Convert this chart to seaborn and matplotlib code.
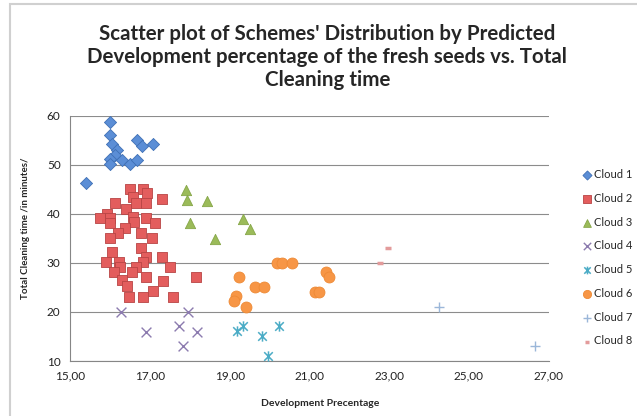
import numpy as np
import matplotlib
matplotlib.use("Agg")
import matplotlib.pyplot as plt
import seaborn as sns
from matplotlib.path import Path
from matplotlib.patches import Rectangle
from matplotlib.ticker import FuncFormatter

# Values
cloud1_x = [16.0, 16.0, 16.04, 16.68, 16.79, 17.07, 16.16, 16.12, 16.0, 16.0, 16.29, 16.5, 16.68, 15.39]
cloud1_y = [58.8, 56.1, 54.2, 55.1, 53.9, 54.2, 53.1, 52.0, 51.2, 50.1, 51.0, 50.1, 51.0, 46.3]

cloud2_x = [16.50, 16.83, 16.93, 16.58, 17.31, 16.12, 16.65, 16.90, 16.40, 15.91, 15.75, 16.00, 16.57,
            16.90, 16.00, 16.61, 17.13, 16.37, 16.20, 16.77, 16.00, 17.04, 16.77, 16.05, 16.90, 17.29,
            15.90, 16.23, 16.82, 16.65, 16.25, 17.50, 16.10, 16.54, 16.90, 17.32, 18.15, 16.29, 16.42,
            17.08, 16.46, 16.83, 17.58]
cloud2_y = [45.1, 45.1, 44.2, 43.4, 43.1, 42.2, 42.2, 42.2, 41.0, 40.1, 39.1, 39.1, 39.4,
            39.1, 38.1, 38.4, 38.2, 37.1, 36.2, 36.2, 35.0, 35.0, 33.1, 32.3, 31.2, 31.2,
            30.3, 30.3, 30.3, 29.2, 29.1, 29.1, 28.2, 28.2, 27.1, 26.4, 27.1, 26.5, 25.4,
            24.3, 23.1, 23.1, 23.1]

cloud3_x = [17.90, 17.92, 18.44, 18.00, 19.33, 19.51, 18.63]
cloud3_y = [44.9, 42.9, 42.7, 38.1, 38.9, 36.9, 34.9]

cloud4_x = [16.26, 17.96, 16.89, 17.73, 18.17, 17.84]
cloud4_y = [20.1, 20.1, 16.0, 17.1, 16.0, 13.1]

cloud5_x = [19.18, 19.34, 19.80, 20.24, 19.97]
cloud5_y = [16.2, 17.1, 15.1, 17.1, 11.1]

cloud6_x = [20.18, 20.30, 20.57, 21.42, 21.49, 19.24, 19.63, 19.87, 21.14, 21.25, 19.16, 19.11, 19.41]
cloud6_y = [30.1, 30.1, 30.1, 28.2, 27.1, 27.1, 25.0, 25.0, 24.1, 24.1, 23.3, 22.2, 21.1]

cloud7_x = [24.25, 26.66]
cloud7_y = [21.0, 13.1]

cloud8_x = [22.98, 22.77]
cloud8_y = [33.0, 30.1]

x_ticks = [15, 17, 19, 21, 23, 25, 27]
y_ticks = [10, 20, 30, 40, 50, 60]

sns.set_style("white")
plt.rcParams['font.family'] = ['Lato', 'DejaVu Sans']

# star marker like Excel's: an X with a vertical bar
star = Path([(-0.5, -0.5), (0.5, 0.5), (-0.5, 0.5), (0.5, -0.5), (0, -0.6), (0, 0.6)],
            [Path.MOVETO, Path.LINETO, Path.MOVETO, Path.LINETO, Path.MOVETO, Path.LINETO])

fig = plt.figure(figsize=(6.37, 4.16), dpi=100)
ax = fig.add_axes([0.1104, 0.1322, 0.7507, 0.589])

sns.scatterplot(x=cloud1_x, y=cloud1_y, marker='D', s=38, color='#5B8ED6', edgecolor='#3F70B5',
                linewidth=0.6, label='Cloud 1', ax=ax, zorder=3)
sns.scatterplot(x=cloud2_x, y=cloud2_y, marker='s', s=62, color='#E35D5D', edgecolor='#B84444',
                linewidth=0.6, label='Cloud 2', ax=ax, zorder=3)
sns.scatterplot(x=cloud3_x, y=cloud3_y, marker='^', s=55, color='#9BBB59', edgecolor='#86A648',
                linewidth=0.6, label='Cloud 3', ax=ax, zorder=3)
sns.scatterplot(x=cloud4_x, y=cloud4_y, marker='x', s=50, color='#8C7BAF',
                linewidth=1.0, label='Cloud 4', ax=ax, zorder=3)
sns.scatterplot(x=cloud5_x, y=cloud5_y, marker=star, s=55, color='#4BACC6', edgecolor='#4BACC6',
                linewidth=1.1, label='Cloud 5', ax=ax, zorder=3)
sns.scatterplot(x=cloud6_x, y=cloud6_y, marker='o', s=62, color='#F79646', edgecolor='#EE8A35',
                linewidth=0.6, label='Cloud 6', ax=ax, zorder=3)
sns.scatterplot(x=cloud7_x, y=cloud7_y, marker='+', s=55, color='#9BB7D9',
                linewidth=1.0, label='Cloud 7', ax=ax, zorder=3)
sns.scatterplot(x=cloud8_x, y=cloud8_y, marker='_', s=22, color='#E39B9B',
                linewidth=2.5, label='Cloud 8', ax=ax, zorder=3)

ax.set_xlim(15, 27)
ax.set_ylim(10, 60)
ax.set_xticks(x_ticks)
ax.set_yticks(y_ticks)
ax.xaxis.set_major_formatter(FuncFormatter(lambda v, p: f"{v:.2f}".replace('.', ',')))
ax.yaxis.grid(True, color='#8c8c8c', linewidth=0.8)
ax.set_axisbelow(True)
for side in ['top', 'right']:
    ax.spines[side].set_visible(False)
for side in ['left', 'bottom']:
    ax.spines[side].set_color('#868686')
    ax.spines[side].set_linewidth(0.8)
ax.tick_params(axis='both', direction='out', length=4, width=0.8, color='#868686',
               labelsize=8.5, labelcolor='#222222', pad=3)
ax.set_xlabel('')
ax.set_ylabel('')

leg = ax.legend(loc='upper left', bbox_to_anchor=(0.907, 0.607), bbox_transform=fig.transFigure,
                frameon=False, fontsize=8, handlelength=0.7, handletextpad=0.25,
                labelspacing=1.15, borderpad=0, markerscale=0.75)

fig.text(0.514, 1 - 57 / 416, "Scatter plot of Schemes' Distribution by Predicted\n"
         "Development percentage of the fresh seeds vs. Total\nCleaning time",
         ha='center', va='center', fontsize=14.8, fontweight='bold', linespacing=1.17)
fig.text(320 / 637, 1 - 404 / 416, 'Development Precentage', ha='center', va='center',
         fontsize=7.5, fontweight='bold')
fig.text(26 / 637, 1 - 228 / 416, 'Total Cleaning time /in minutes/', ha='center', va='center',
         rotation=90, fontsize=7, fontweight='bold')

# light outer frame of the chart area
fig.patches.append(Rectangle((10 / 637, -0.1), 1.2, 1.1 - 4 / 416, transform=fig.transFigure,
                             fill=False, edgecolor='#d0d0d0', linewidth=1.5))

fig.savefig('out.png', dpi=100)
